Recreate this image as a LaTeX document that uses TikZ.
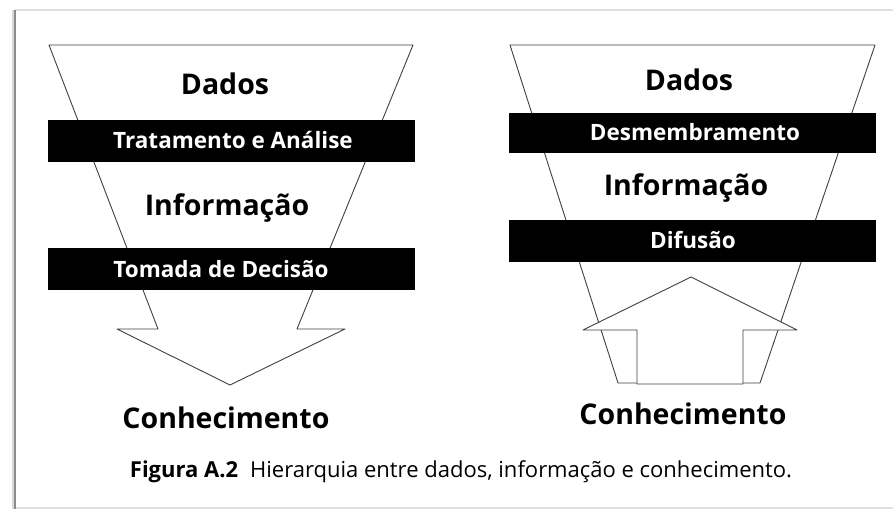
\documentclass[tikz,border=0pt]{standalone}
\usepackage{fontspec}
\setmainfont{Open Sans}
\tikzset{
  faixa/.style={fill=black,draw=black,minimum width=366pt,minimum height=41pt,inner sep=0pt},
  rotulo/.style={text=white,anchor=base,font=\bfseries\fontsize{22.5}{26}\selectfont},
  nivel/.style={anchor=base,font=\bfseries\fontsize{28.5}{32}\selectfont},
  linha/.style={draw=black!75,line width=0.9pt,line join=round}
}
\begin{document}
\begin{tikzpicture}[x=1pt,y=-1pt]
\useasboundingbox (0,0) rectangle (893,510);
\fill[white] (0,0) rectangle (893,510);
\draw[black!12,line width=1.2pt] (15,10) -- (893,10);
\draw[black!12,line width=1.2pt] (15,508) -- (893,508);
\draw[black!45,line width=2pt] (15,10) -- (15,509);
\draw[black!15,line width=2pt] (12.5,10) -- (12.5,509);
\draw[linha] (49,45) -- (413,45) -- (297,329) -- (345,329) -- (230,385) -- (117,329) -- (158,329) -- cycle;
\draw[linha] (510,45) -- (875,45) -- (760,383) -- (618,383) -- cycle;
\draw[linha,fill=white] (637,384) -- (637,330) -- (583,330) -- (691,277) -- (797,330) -- (743,330) -- (743,384) -- cycle;
\node[faixa] (trat) at (231,141) {};
\node[faixa] (toma) at (231,268.5) {};
\node[faixa,minimum height=39pt] (desm) at (692.5,132.5) {};
\node[faixa] (difu) at (692.5,240.5) {};
\node[rotulo] (tratT) at (233,149) {Tratamento e Análise};
\node[rotulo] (tomaT) at (221,277) {Tomada de Decisão};
\node[rotulo] (desmT) at (695,141) {Desmembramento};
\node[rotulo] (difuT) at (693,249) {Difusão};
\node[nivel] (dadosE) at (225,95) {Dados};
\node[nivel] (infoE) at (227,216) {Informação};
\node[nivel] (conhE) at (226,428) {Conhecimento};
\node[nivel] (dadosD) at (689,91) {Dados};
\node[nivel] (infoD) at (686,196) {Informação};
\node[nivel] (conhD) at (683,424) {Conhecimento};
\node[anchor=base,font=\fontsize{22}{25}\selectfont] (legenda) at (461,477) {\textbf{Figura A.2}\hspace{12pt}Hierarquia entre dados, informação e conhecimento.};
\end{tikzpicture}
\end{document}
